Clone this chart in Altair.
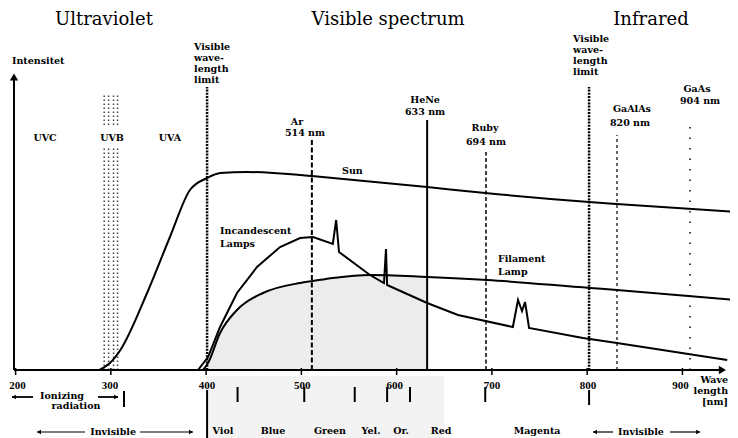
import altair as alt
import pandas as pd

FONT = "DejaVu Serif"
TICK_FONT = "Liberation Serif"

# ---------------- data (wavelength in nm, intensity in relative units) ----------------
sun_nm = [288, 299, 310, 338, 362, 383, 401, 415, 443, 499, 511, 632, 693, 802, 831, 957]
sun_i = [0, 7, 20, 77, 133, 180, 192, 197, 198, 195, 194, 183, 177, 168, 166, 158]

inc_nm = [391.5, 402, 414.6, 432.4, 453.4, 477.6, 498.6, 512.2, 533, 536.5, 539.5, 572,
          586.7, 588.8, 590, 632, 664.4, 722, 727.4, 731.6, 734.8, 739, 795.6, 831.3, 947]
inc_i = [0, 13, 43, 77, 103, 123, 132, 133, 126, 150, 118, 95,
         87, 121, 85, 67, 55, 43, 70, 59, 68, 42, 32, 27, 10]

fil_nm = [396.7, 402, 414.6, 432.4, 459.7, 498.6, 512.2, 533.2, 572, 632, 695, 803, 831.3, 957]
fil_i = [0, 7, 37, 60, 77, 87, 89, 92, 95, 93, 90, 82, 80, 70]

# vertical marker lines: position, top, dash, width
vline_nm = [401, 511, 632, 693.8, 802, 831.3, 908]
vline_top = [283, 230, 250, 218, 283, 235, 245]
vline_dash = [[2, 1.2], [5, 2.5], [1, 0], [4, 2.5], [2, 1.2], [3, 3], [1.5, 9]]
vline_w = [2.5, 2, 2, 1.5, 2.5, 1.2, 1.5]

uvb_cols = [293, 297.6, 302.8, 307]
uvb_segments = [(0, 223), (245, 277)]

axis_x0, axis_x1, axis_ytop = 198.3, 942, 293
x_ticks = [200, 300, 400, 500, 600, 700, 800, 900]
tick_labels = ["200", "300", "400", "500", "600", "700", "800", "900"]
tick_label_x = [202, 299, 401, 501, 598, 700, 801, 898]

titles = ["Ultraviolet", "Visible spectrum", "Infrared"]
title_x = [292.8, 591, 867]
title_y = [345, 345, 345]

c_text = ["Ar", "514 nm", "HeNe", "633 nm", "Ruby", "694 nm", "GaAlAs", "820 nm", "GaAs", "904 nm",
          "UVC", "UVB", "UVA", "Ionizing", "radiation", "Invisible", "Invisible",
          "Viol", "Blue", "Green", "Yel.", "Or.", "Red", "Magenta"]
c_x = [495.4, 503.8, 629.8, 629.8, 692.8, 693.8, 847, 845, 915.3, 918.5,
       230.9, 301.2, 362, 248.7, 263.4, 302.3, 856.5,
       417.7, 470.2, 530, 573.1, 604.6, 646.6, 747.4]
c_y = [245, 234, 267, 255, 239, 225, 258, 244, 278, 266,
       229, 229, 229, -29, -39, -65, -65,
       -64, -64, -64, -64, -64, -64, -64]

l_text = ["Intensitet", "Visible", "wave-", "length", "limit", "Visible", "wave-", "length", "limit",
          "Sun", "Incandescent", "Lamps", "Filament", "Lamp"]
l_x = [196.2, 387.3, 387.3, 387.3, 387.3, 785.2, 785.2, 785.2, 785.2,
       542.7, 414.6, 414.6, 706.4, 706.4]
l_y = [306, 320, 309, 298, 287, 328, 317, 306, 295,
       196, 136, 123, 108, 95]

r_text = ["Wave", "length", "[nm]"]
r_x = [947.9, 947.9, 947.9]
r_y = [-13, -24, -35]

sep_nm = [401, 433, 503, 556, 590, 614, 693, 802, 313.8]
sep_top = [-20, -17, -17, -17, -17, -17, -17, -20, -21]
sep_bot = [-68, -32, -32, -32, -32, -32, -32, -35, -37]

arr_tail = [218.3, 286.5, 272.9, 330.6, 827.2, 887]
arr_head = [196.2, 307.5, 222.5, 386.2, 806.2, 918.5]
arr_y = [-27, -27, -62, -62, -62, -62]
arr_w = [1.8, 1.8, 1.2, 1.2, 1.2, 1.2]

shade_nm = [400, 632]
band_shade = [400, 650, -6, -68]

xs = alt.Scale(domain=[198.3, 946.8], nice=False, zero=False)
ys = alt.Scale(domain=[0, 298], nice=False, zero=False)


def X(f="x"):
    return alt.X(f"{f}:Q", scale=xs, axis=None, title=None)


def Y(f="y"):
    return alt.Y(f"{f}:Q", scale=ys, axis=None, title=None)


def curve_df(nm, vals):
    return pd.DataFrame({"x": nm, "y": vals, "o": list(range(len(nm)))})


layers = []

# shading (halftone areas of the original)
fdf = curve_df(fil_nm, fil_i)
shade = alt.Chart(fdf).transform_filter(
    (alt.datum.x >= shade_nm[0]) & (alt.datum.x <= shade_nm[1])
).mark_area(color="#ececec", interpolate="monotone").encode(x=X(), y=Y(), order="o:Q")
layers.append(shade)

bdf = pd.DataFrame({"x": [band_shade[0]], "x2": [band_shade[1]], "y": [band_shade[2]], "y2": [band_shade[3]]})
layers.append(alt.Chart(bdf).mark_rect(color="#f3f3f3").encode(x=X(), x2="x2:Q", y=Y(), y2="y2:Q"))

# UVB dotted band
urows = [(c, a, b) for c in uvb_cols for (a, b) in uvb_segments]
udf = pd.DataFrame(urows, columns=["x", "y", "y2"])
layers.append(alt.Chart(udf).mark_rule(color="#444", strokeWidth=1.5, strokeDash=[1.5, 2.5]).encode(
    x=X(), y=Y(), y2="y2:Q"))

# axes drawn with rules
ax_df = pd.DataFrame({"x": [axis_x0], "x2": [axis_x1], "y": [0]})
layers.append(alt.Chart(ax_df).mark_rule(color="black", strokeWidth=2).encode(x=X(), x2="x2:Q", y=Y()))
ay_df = pd.DataFrame({"x": [axis_x0], "y": [0], "y2": [axis_ytop]})
layers.append(alt.Chart(ay_df).mark_rule(color="black", strokeWidth=2).encode(x=X(), y=Y(), y2="y2:Q"))
tk_df = pd.DataFrame({"x": x_ticks, "y": [2] * len(x_ticks), "y2": [-5] * len(x_ticks)})
layers.append(alt.Chart(tk_df).mark_rule(color="black", strokeWidth=1.5).encode(x=X(), y=Y(), y2="y2:Q"))
tl_df = pd.DataFrame({"x": tick_label_x, "y": [-19] * len(x_ticks), "t": tick_labels})
layers.append(alt.Chart(tl_df).mark_text(font=TICK_FONT, fontSize=11, fontWeight="bold", baseline="alphabetic",
                                         color="black").encode(x=X(), y=Y(), text="t:N"))

# vertical marker lines
for nm, top, dash, w in zip(vline_nm, vline_top, vline_dash, vline_w):
    vdf = pd.DataFrame({"x": [nm], "y": [0], "y2": [top]})
    kw = dict(color="black", strokeWidth=w)
    if dash[1] > 0:
        kw["strokeDash"] = dash
    layers.append(alt.Chart(vdf).mark_rule(**kw).encode(x=X(), y=Y(), y2="y2:Q"))

# curves
layers.append(alt.Chart(curve_df(sun_nm, sun_i)).mark_line(color="black", strokeWidth=2, interpolate="monotone")
              .encode(x=X(), y=Y(), order="o:Q"))
layers.append(alt.Chart(curve_df(inc_nm, inc_i)).mark_line(color="black", strokeWidth=2)
              .encode(x=X(), y=Y(), order="o:Q"))
layers.append(alt.Chart(curve_df(fil_nm, fil_i)).mark_line(color="black", strokeWidth=2, interpolate="monotone")
              .encode(x=X(), y=Y(), order="o:Q"))

# axis arrowheads
layers.append(alt.Chart(pd.DataFrame({"x": [axis_x0], "y": [axis_ytop]})).mark_point(
    shape="triangle-up", filled=True, color="black", size=70, opacity=1).encode(x=X(), y=Y()))
layers.append(alt.Chart(pd.DataFrame({"x": [axis_x1], "y": [0]})).mark_point(
    shape="triangle-right", filled=True, color="black", size=70, opacity=1).encode(x=X(), y=Y()))

# separators under axis
sdf = pd.DataFrame({"x": sep_nm, "y": sep_top, "y2": sep_bot})
layers.append(alt.Chart(sdf).mark_rule(color="black", strokeWidth=2).encode(x=X(), y=Y(), y2="y2:Q"))

# arrows under axis
adf = pd.DataFrame({"x": arr_tail, "x2": arr_head, "y": arr_y, "w": arr_w})
layers.append(alt.Chart(adf).mark_rule(color="black").encode(
    x=X(), x2="x2:Q", y=Y(), strokeWidth=alt.StrokeWidth("w:Q", scale=None, legend=None)))
left_heads = [(h + 2, y) for t, h, y in zip(arr_tail, arr_head, arr_y) if h < t]
right_heads = [(h - 2, y) for t, h, y in zip(arr_tail, arr_head, arr_y) if h > t]
layers.append(alt.Chart(pd.DataFrame(left_heads, columns=["x", "y"])).mark_point(
    shape="triangle-left", filled=True, color="black", size=22, opacity=1).encode(x=X(), y=Y()))
layers.append(alt.Chart(pd.DataFrame(right_heads, columns=["x", "y"])).mark_point(
    shape="triangle-right", filled=True, color="black", size=22, opacity=1).encode(x=X(), y=Y()))


def text_layer(texts, xv, yv, align, size, weight):
    df = pd.DataFrame({"t": texts, "x": xv, "y": yv})
    return alt.Chart(df).mark_text(align=align, baseline="alphabetic", font=FONT, fontSize=size,
                                   fontWeight=weight, color="black").encode(x=X(), y=Y(), text="t:N")


layers.append(text_layer(titles, title_x, title_y, "center", 18, "normal"))
layers.append(text_layer(c_text, c_x, c_y, "center", 9.5, "bold"))
layers.append(text_layer(l_text, l_x, l_y, "left", 9.5, "bold"))
layers.append(text_layer(r_text, r_x, r_y, "right", 9.5, "bold"))

chart = alt.layer(*layers).properties(
    width=713, height=298,
    padding={"left": 6, "top": 64, "right": 3, "bottom": 68},
    autosize=alt.AutoSizeParams(type="none"),
    background="white",
).configure_view(stroke=None)

chart.save("out.html", embed_options={"renderer": "svg", "actions": False})
